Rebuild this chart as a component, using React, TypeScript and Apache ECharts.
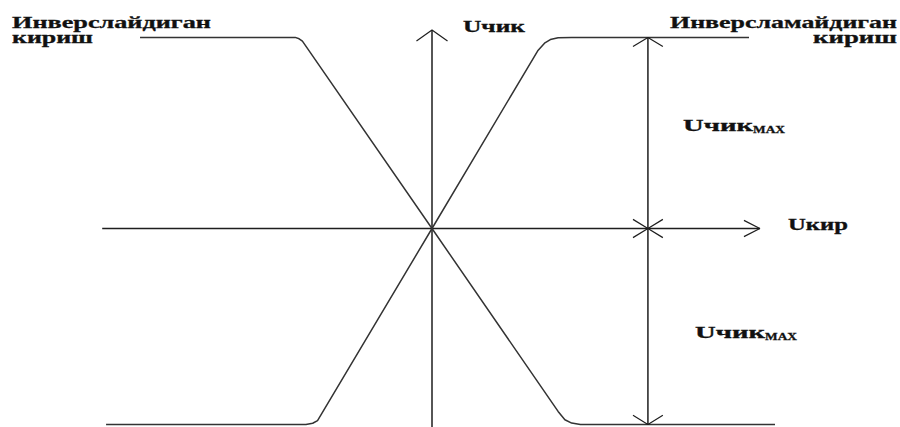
import React, { useEffect, useRef } from 'react';
import * as echarts from 'echarts';

// ---- data (input voltage Uкир on x, output voltage Uчик on y, arbitrary volts) ----
const invertingX = [-15.05, -7.05, -6.85, -6.68, 0, 6.5, 6.85, 7.2, 7.65, 17.68];
const invertingY = [9.85, 9.85, 9.78, 9.66, 0, -9.43, -9.86, -10.03, -10.1, -10.1];
const nonInvertingX = [-16.8, -6.5, -6.15, -5.9, 0, 5.45, 5.8, 6.1, 6.5, 7.2, 16.34];
const nonInvertingY = [-10.1, -10.1, -10.04, -9.9, 0, 9.16, 9.55, 9.74, 9.83, 9.85, 9.85];

// axes drawn as lines in data space
const xAxisLine = [[-17.0, 0], [16.9, 0]];
const xAxisArrow = [[16.08, 0.42], [16.9, 0], [16.08, -0.42]];
const yAxisLine = [[0, -10.23], [0, 10.23]];
const yAxisArrow = [[-0.8, 9.66], [0, 10.23], [0.8, 9.66]];

// U чик max dimension marker
const dimX = 11.13;
const dimTop = 9.85;
const dimBottom = -10.1;
const wingDx = 0.77;
const wingDy = 0.47;

const labels = {
  invTitle: 'Инверслайдиган',
  invSub: 'кириш',
  nonInvTitle: 'Инверсламайдиган',
  nonInvSub: 'кириш',
  yName: 'Uчик',
  xName: 'Uкир',
  maxMain: 'Uчик',
  maxSub: 'MAX',
};

const PX = 19.4;
const OX = 432;
const OY = 228.5;
const W = 900;
const H = 427;

const FONT_FAMILY = '"Liberation Serif", "Times New Roman", serif';

function measure(text: string, font: string): number {
  const c = document.createElement('canvas');
  const ctx = c.getContext('2d');
  if (!ctx) return text.length * 8;
  ctx.font = font;
  return ctx.measureText(text).width;
}

function txt(text: string, left: number, baseline: number, width: number, size: number) {
  const font = `bold ${size}px ${FONT_FAMILY}`;
  const w = measure(text, font);
  return {
    type: 'text',
    x: left,
    y: baseline - size * 0.34,
    scaleX: width / w,
    style: {
      text,
      x: 0,
      y: 0,
      font,
      fill: '#111111',
      stroke: '#111111',
      lineWidth: 0.3,
      textAlign: 'left',
      textVerticalAlign: 'middle',
      align: 'left',
      verticalAlign: 'middle',
    },
  };
}

function zip(xs: number[], ys: number[]) {
  return xs.map((x, i) => [x, ys[i]]);
}

function poly(data: number[][], color = '#2a2a2a', width = 1.5) {
  return {
    type: 'line',
    data,
    symbol: 'none',
    silent: true,
    lineStyle: { color, width },
    z: 2,
  };
}

export default function App() {
  const ref = useRef<HTMLDivElement>(null);
  useEffect(() => {
    if (!ref.current) return;
    const chart = echarts.init(ref.current, undefined, { renderer: 'svg' });
    const lineCol = '#1e1e1e';
    const curveCol = '#333333';
    const dimTopArrow = [[dimX - wingDx, dimTop - wingDy], [dimX, dimTop], [dimX + wingDx, dimTop - wingDy]];
    const dimMidDown = [[dimX - wingDx, wingDy], [dimX, 0], [dimX + wingDx, wingDy]];
    const dimMidUp = [[dimX - wingDx, -wingDy], [dimX, 0], [dimX + wingDx, -wingDy]];
    const dimBotArrow = [[dimX - wingDx, dimBottom + wingDy], [dimX, dimBottom], [dimX + wingDx, dimBottom + wingDy]];
    chart.setOption({
      animation: false,
      backgroundColor: '#ffffff',
      grid: { left: 0, right: 0, top: 0, bottom: 0, containLabel: false },
      xAxis: {
        type: 'value',
        min: -OX / PX,
        max: (W - OX) / PX,
        show: false,
      },
      yAxis: {
        type: 'value',
        min: -(H - OY) / PX,
        max: OY / PX,
        show: false,
      },
      series: [
        poly(xAxisLine, lineCol, 1.5),
        poly(xAxisArrow, lineCol, 1.2),
        poly(yAxisLine, lineCol, 1.5),
        poly(yAxisArrow, lineCol, 1.2),
        poly(zip(invertingX, invertingY), curveCol, 1.5),
        poly(zip(nonInvertingX, nonInvertingY), curveCol, 1.5),
        poly([[dimX, dimTop], [dimX, dimBottom]], lineCol, 1.5),
        poly(dimTopArrow, lineCol, 1.2),
        poly(dimMidDown, lineCol, 1.2),
        poly(dimMidUp, lineCol, 1.2),
        poly(dimBotArrow, lineCol, 1.2),
      ],
      graphic: [
        txt(labels.invTitle, 12, 28, 199, 17),
        txt(labels.invSub, 12, 43, 81, 17),
        txt(labels.yName, 463, 32, 62, 16),
        txt(labels.nonInvTitle, 670, 28, 227, 17),
        txt(labels.nonInvSub, 813, 43, 84, 17),
        txt(labels.xName, 788, 230, 60, 17),
        txt(labels.maxMain, 683, 131, 70, 16),
        txt(labels.maxSub, 753, 133, 32, 11),
        txt(labels.maxMain, 695, 338, 70, 16),
        txt(labels.maxSub, 765, 340, 32, 11),
      ],
    });
    return () => chart.dispose();
  }, []);
  return (
    <div
      ref={ref}
      style={{ position: 'fixed', left: 0, top: 0, width: W, height: H, background: '#fff' }}
    />
  );
}
